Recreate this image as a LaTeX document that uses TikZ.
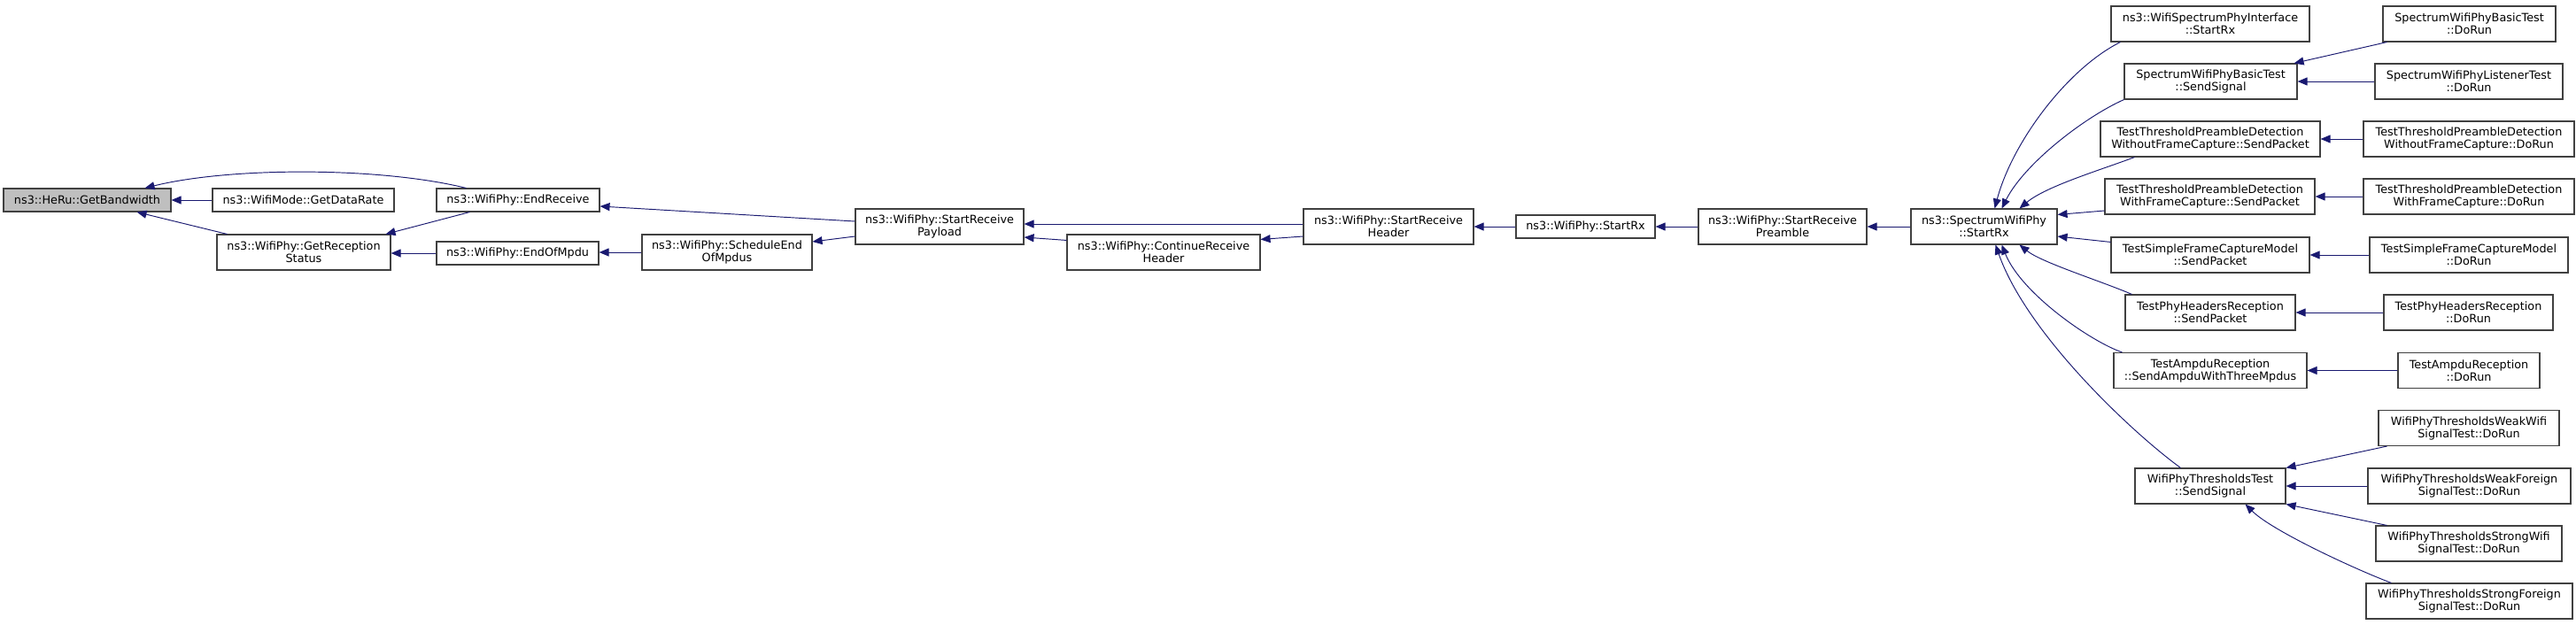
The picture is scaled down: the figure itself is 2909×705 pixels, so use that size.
\documentclass[tikz,border=0pt]{standalone}
\usepackage{fontspec}
\setmainfont{DejaVu Sans}
\usetikzlibrary{arrows.meta,calc}
\definecolor{edgeblue}{HTML}{191970}
\definecolor{nodegrey}{HTML}{BFBFBF}

\begin{document}
\begin{tikzpicture}[x=1pt,y=-1pt,
    fn/.style={draw=black!75,line width=1.1pt,fill=white,inner sep=0pt,align=center},
    one/.style={minimum height=26pt},
    two/.style={minimum height=40pt},
    cur/.style={fill=nodegrey}]
  \fontsize{12.8}{14}\selectfont
  \tikzset{call/.style={draw=edgeblue,line width=0.95pt,-{Triangle[length=11pt,width=9pt]}}}
  \useasboundingbox (0,0) rectangle (2909,705);

  % chain from GetBandwidth to SpectrumWifiPhy::StartRx
  \node[fn,one,cur,minimum width=189pt] (gbw) at (98.5,226) {ns3::HeRu::GetBandwidth};
  \node[fn,one,minimum width=205pt] (gdr) at (342.5,226) {ns3::WifiMode::GetDataRate};
  \node[fn,two,minimum width=196pt] (grs) at (343,285) {ns3::WifiPhy::GetReception\\Status};
  \node[fn,one,minimum width=184pt] (erc) at (585,226) {ns3::WifiPhy::EndReceive};
  \node[fn,one,minimum width=183pt] (eom) at (584.5,286) {ns3::WifiPhy::EndOfMpdu};
  \node[fn,two,minimum width=192pt] (seom) at (821,285) {ns3::WifiPhy::ScheduleEnd\\OfMpdus};
  \node[fn,two,minimum width=190pt] (srp) at (1061,256) {ns3::WifiPhy::StartReceive\\Payload};
  \node[fn,two,minimum width=218pt] (crh) at (1314,285) {ns3::WifiPhy::ContinueReceive\\Header};
  \node[fn,two,minimum width=192pt] (srh) at (1568,256) {ns3::WifiPhy::StartReceive\\Header};
  \node[fn,one,minimum width=157pt] (wsrx) at (1790.5,256) {ns3::WifiPhy::StartRx};
  \node[fn,two,minimum width=190pt] (srpre) at (2013,256) {ns3::WifiPhy::StartReceive\\Preamble};
  \node[fn,two,minimum width=165pt] (swrx) at (2240.5,256) {ns3::SpectrumWifiPhy\\::StartRx};

  % callers of SpectrumWifiPhy::StartRx
  \node[fn,two,minimum width=224pt] (wspi) at (2496,27) {ns3::WifiSpectrumPhyInterface\\::StartRx};
  \node[fn,two,minimum width=195pt] (sbss) at (2496.5,92) {SpectrumWifiPhyBasicTest\\::SendSignal};
  \node[fn,two,minimum width=248pt] (ttwosp) at (2496,157) {TestThresholdPreambleDetection\\WithoutFrameCapture::SendPacket};
  \node[fn,two,minimum width=237pt] (ttwsp) at (2495.5,222) {TestThresholdPreambleDetection\\WithFrameCapture::SendPacket};
  \node[fn,two,minimum width=224pt] (tsfsp) at (2496,288) {TestSimpleFrameCaptureModel\\::SendPacket};
  \node[fn,two,minimum width=192pt] (tphsp) at (2496,353) {TestPhyHeadersReception\\::SendPacket};
  \node[fn,two,minimum width=218pt] (tarsp) at (2496,418.5) {TestAmpduReception\\::SendAmpduWithThreeMpdus};
  \node[fn,two,minimum width=170pt] (wptss) at (2496,549) {WifiPhyThresholdsTest\\::SendSignal};

  % test DoRun entries
  \node[fn,two,minimum width=195pt] (sbtdr) at (2788.5,27) {SpectrumWifiPhyBasicTest\\::DoRun};
  \node[fn,two,minimum width=212pt] (sltdr) at (2788,92) {SpectrumWifiPhyListenerTest\\::DoRun};
  \node[fn,two,minimum width=238pt] (ttwodr) at (2788,157) {TestThresholdPreambleDetection\\WithoutFrameCapture::DoRun};
  \node[fn,two,minimum width=238pt] (ttwdr) at (2788,222) {TestThresholdPreambleDetection\\WithFrameCapture::DoRun};
  \node[fn,two,minimum width=224pt] (tsfdr) at (2788,288) {TestSimpleFrameCaptureModel\\::DoRun};
  \node[fn,two,minimum width=191pt] (tphdr) at (2787.5,353) {TestPhyHeadersReception\\::DoRun};
  \node[fn,two,minimum width=160pt] (tardr) at (2788,418.5) {TestAmpduReception\\::DoRun};
  \node[fn,two,minimum width=204pt] (wkwdr) at (2788,483.5) {WifiPhyThresholdsWeakWifi\\SignalTest::DoRun};
  \node[fn,two,minimum width=229pt] (wkfdr) at (2788.5,549) {WifiPhyThresholdsWeakForeign\\SignalTest::DoRun};
  \node[fn,two,minimum width=210pt] (stwdr) at (2788,614) {WifiPhyThresholdsStrongWifi\\SignalTest::DoRun};
  \node[fn,two,minimum width=233pt] (stfdr) at (2788.5,679) {WifiPhyThresholdsStrongForeign\\SignalTest::DoRun};

  % edges, arrow at the called function
  \draw[call] (gdr.west) -- (gbw.east);
  \draw[call] ($(erc.north west)+(34,0)$) .. controls +(-97,-24) and +(97,-24) .. ($(gbw.north east)+(-30,0)$);
  \draw[call] ($(grs.north west)+(12,0)$) -- ($(gbw.south east)+(-39,0)$);
  \draw[call] ($(erc.south west)+(38,0)$) -- ($(grs.north east)+(-6,0)$);
  \draw[call] (eom.west) -- (grs.east |- eom.west);
  \draw[call] (seom.west) -- (seom.west -| eom.east);
  \draw[call] ($(srp.west)+(0,-6)$) -- ($(erc.east)+(0,7)$);
  \draw[call] ($(srp.west)+(0,11)$) -- ($(seom.east)+(0,-12)$);
  \draw[call] ($(srh.west)+(0,-3)$) -- ($(srp.east)+(0,-3)$);
  \draw[call] ($(crh.north west)+(0,7)$) -- ($(srp.east)+(0,12)$);
  \draw[call] ($(srh.west)+(0,11)$) -- ($(crh.north east)+(0,6)$);
  \draw[call] (wsrx.west) -- (srh.east);
  \draw[call] (srpre.west) -- (wsrx.east);
  \draw[call] (swrx.west) -- (srpre.east);

  \draw[call] ($(wspi.south west)+(11,0)$) .. controls +(-60,30) and +(20,-75) .. ($(swrx.north)+(12,0)$);
  \draw[call] (sbss.south west) .. controls +(-45,20) and +(25,-50) .. ($(swrx.north)+(20,0)$);
  \draw[call] ($(ttwosp.south west)+(39,0)$) .. controls +(-40,15) and +(30,-25) .. ($(swrx.north)+(40,0)$);
  \draw[call] ($(ttwsp.west)+(0,16)$) -- ($(swrx.north east)+(0,7)$);
  \draw[call] ($(tsfsp.north west)+(0,6)$) -- ($(swrx.east)+(0,11)$);
  \draw[call] ($(tphsp.north west)+(8,0)$) .. controls +(-35,-15) and +(25,20) .. ($(swrx.south)+(40,0)$);
  \draw[call] ($(tarsp.north west)+(10,0)$) .. controls +(-35,-12) and +(22,55) .. ($(swrx.south)+(20,0)$);
  \draw[call] ($(wptss.north west)+(52,0)$) .. controls +(-55,-40) and +(35,100) .. ($(swrx.south)+(13,0)$);

  \draw[call] ($(sbtdr.south west)+(5,0)$) -- ($(sbss.north east)+(-4,0)$);
  \draw[call] (sltdr.west) -- (sbss.east);
  \draw[call] (ttwodr.west) -- (ttwosp.east);
  \draw[call] (ttwdr.west) -- (ttwsp.east);
  \draw[call] (tsfdr.west) -- (tsfsp.east);
  \draw[call] (tphdr.west) -- (tphsp.east);
  \draw[call] (tardr.west) -- (tarsp.east);
  \draw[call] ($(wkwdr.south west)+(10,0)$) -- (wptss.north east);
  \draw[call] (wkfdr.west) -- (wptss.east);
  \draw[call] ($(stwdr.north west)+(13,0)$) -- (wptss.south east);
  \draw[call] ($(stfdr.north west)+(29,0)$) .. controls +(-40,-15) and +(30,30) .. ($(wptss.south east)+(-46,0)$);
\end{tikzpicture}
\end{document}
